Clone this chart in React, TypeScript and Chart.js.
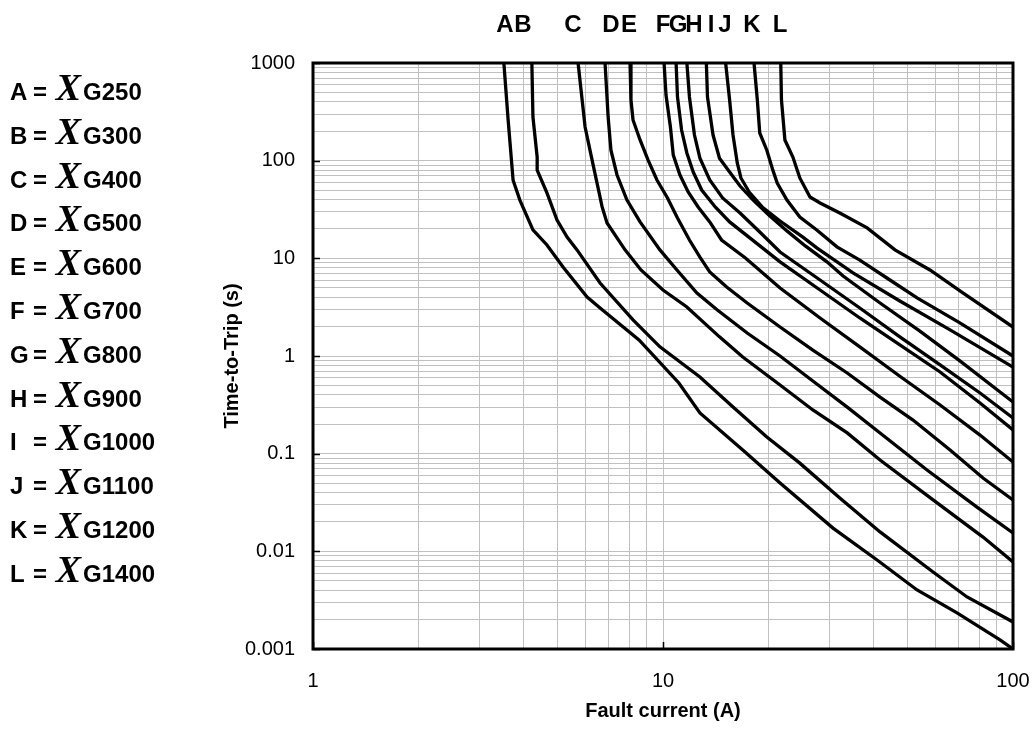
import React, { useEffect, useRef } from 'react';
import { Chart, registerables } from 'chart.js';

Chart.register(...registerables);

// ---------- DATA ----------
const curveLetters = ['A', 'B', 'C', 'D', 'E', 'F', 'G', 'H', 'I', 'J', 'K', 'L'];
const modelNames = ['G250', 'G300', 'G400', 'G500', 'G600', 'G700', 'G800', 'G900', 'G1000', 'G1100', 'G1200', 'G1400'];

const currentA = [3.51, 3.61, 3.73, 3.9, 4.25, 4.66, 5.18, 6.07, 6.61, 8.54, 11.1, 12.75, 16.9, 21.6, 30.6, 40.9, 53.2, 69.2, 91.8, 100];
const timeA = [1000, 261, 63, 39.5, 19.6, 13.7, 8.15, 4.02, 3.1, 1.46, 0.53, 0.261, 0.109, 0.05, 0.0173, 0.00815, 0.00402, 0.00234, 0.00124, 0.001];

const currentB = [4.22, 4.25, 4.37, 4.37, 4.66, 4.98, 5.32, 5.68, 6.61, 8.21, 9.8, 12.75, 15.85, 19.8, 24.6, 32.0, 41.7, 59.1, 73.9, 100];
const timeB = [1000, 280, 109, 80, 46.7, 24.7, 16.5, 12.2, 5.59, 2.34, 1.24, 0.61, 0.3, 0.148, 0.08, 0.0352, 0.0158, 0.00615, 0.00341, 0.00189];

const currentC = [5.72, 5.99, 6.27, 6.48, 6.7, 6.92, 7.79, 8.65, 10.0, 11.7, 14.5, 16.9, 21.6, 26.8, 33.6, 41.7, 59.1, 82.1, 100];
const timeC = [1000, 221, 102, 59, 33.6, 23.0, 12.2, 7.6, 4.74, 3.18, 1.57, 0.977, 0.505, 0.28, 0.163, 0.0861, 0.0336, 0.014, 0.0078];

const currentD = [6.83, 6.97, 7.1, 7.39, 7.89, 8.6, 9.8, 10.96, 12.5, 14.3, 17.4, 21.6, 26.8, 33.6, 41.7, 56.8, 78.9, 100];
const timeD = [1000, 280, 128, 71.3, 39.5, 23.6, 12.2, 7.6, 4.42, 2.96, 1.72, 1.0, 0.555, 0.3, 0.163, 0.068, 0.0284, 0.0154];

const currentE = [8.05, 8.1, 8.21, 8.6, 9.06, 9.61, 10.3, 11.0, 11.9, 12.75, 13.6, 15.2, 17.4, 21.6, 26.8, 33.6, 41.7, 51.8, 66.1, 82.1, 100];
const timeE = [1000, 418, 261, 163, 102, 63.4, 41.5, 25.9, 15.4, 10.3, 7.25, 5.09, 3.49, 1.98, 1.15, 0.67, 0.38, 0.221, 0.109, 0.0564, 0.0336];

const currentF = [10.07, 10.2, 10.5, 10.7, 11.18, 11.8, 12.6, 13.6, 14.7, 17.2, 21.6, 28.1, 36.5, 47.5, 61.9, 80.5, 100];
const timeF = [1000, 470, 221, 114, 71.3, 47.8, 33.6, 23.6, 15.4, 10.1, 4.97, 2.45, 1.24, 0.62, 0.315, 0.155, 0.082];

const currentG = [10.9, 11.0, 11.3, 11.7, 12.2, 12.9, 14.1, 15.5, 17.7, 21.6, 28.1, 36.5, 47.5, 61.9, 80.5, 100];
const timeG = [1000, 449, 206, 120, 76.5, 50, 33.6, 23.6, 16.2, 9.2, 4.74, 2.45, 1.3, 0.686, 0.33, 0.175];

const currentH = [11.7, 11.9, 12.3, 12.75, 13.6, 14.8, 16.6, 18.9, 21.6, 28.1, 36.5, 47.5, 61.9, 80.5, 100];
const timeH = [1000, 449, 183, 106, 63.4, 41.5, 29.1, 18.6, 11.6, 6.0, 3.1, 1.57, 0.81, 0.418, 0.232];

const currentI = [13.3, 13.4, 13.9, 14.5, 15.5, 16.6, 18.1, 20.2, 22.6, 25.5, 29.4, 32.7, 41.7, 54.2, 70.5, 100];
const timeI = [1000, 449, 183, 106, 76.5, 55, 39.5, 27.1, 19.1, 13.4, 9.2, 6.6, 3.49, 1.8, 0.89, 0.338];

const currentJ = [15.1, 15.5, 15.85, 16.3, 16.7, 17.7, 19.2, 21.6, 25.1, 27.5, 34.9, 47.5, 66.1, 100];
const timeJ = [1000, 418, 183, 94.7, 66.5, 46.7, 33.6, 24.1, 16.5, 12.8, 7.08, 3.66, 1.85, 0.77];

const currentK = [18.2, 18.6, 18.9, 19.8, 20.6, 21.2, 22.6, 24.6, 27.5, 31.4, 36.5, 44.5, 53.2, 70.5, 100];
const timeK = [1000, 418, 192, 128, 80, 59, 39.5, 26.5, 19.5, 13.1, 9.6, 6.0, 3.93, 2.18, 1.0];

const currentL = [21.7, 21.8, 22.3, 23.5, 24.6, 26.3, 28.1, 32.0, 38.3, 46.0, 57.9, 71.9, 100];
const timeL = [1000, 418, 163, 109, 66.5, 42.5, 36.9, 29.1, 20.5, 12.2, 7.6, 4.42, 1.98];

const seriesCurrents = [currentA, currentB, currentC, currentD, currentE, currentF, currentG, currentH, currentI, currentJ, currentK, currentL];
const seriesTimes = [timeA, timeB, timeC, timeD, timeE, timeF, timeG, timeH, timeI, timeJ, timeK, timeL];

const xMajorTicks = [1, 10, 100];
const xTickLabels = ['1', '10', '100'];
const yMajorTicks = [0.001, 0.01, 0.1, 1, 10, 100, 1000];
const yTickLabels = ['0.001', '0.01', '0.1', '1', '10', '100', '1000'];

// ---------- LAYOUT / STYLE ----------
const W = 1035;
const H = 731;
const topLabelCenters = [505, 523, 573, 611, 629, 663, 678, 694, 711, 725, 752, 780];

function logGrid(min: number, max: number): number[] {
  const out: number[] = [];
  const e0 = Math.round(Math.log10(min));
  const e1 = Math.round(Math.log10(max));
  for (let e = e0; e < e1; e++) {
    for (let k = 1; k <= 9; k++) out.push(parseFloat((k * Math.pow(10, e)).toPrecision(6)));
  }
  out.push(max);
  return out;
}

function labelFor(v: number, majors: number[], labels: string[]): string {
  const i = majors.findIndex((m) => Math.abs(Math.log10(m) - Math.log10(v)) < 1e-6);
  return i >= 0 ? labels[i] : '';
}

const framePlugin = {
  id: 'frame',
  afterDatasetsDraw(chart: any) {
    const { ctx, chartArea, scales } = chart;
    const { left, top, right, bottom } = chartArea;
    ctx.save();
    ctx.strokeStyle = '#000';
    ctx.lineWidth = 3;
    ctx.strokeRect(left, top, right - left, bottom - top);
    ctx.lineWidth = 1.5;
    ctx.beginPath();
    yMajorTicks.forEach((v) => {
      const y = Math.round(scales.y.getPixelForValue(v)) + 0.5;
      ctx.moveTo(left, y);
      ctx.lineTo(left + 7, y);
    });
    xMajorTicks.forEach((v) => {
      const x = Math.round(scales.x.getPixelForValue(v)) + 0.5;
      ctx.moveTo(x, bottom);
      ctx.lineTo(x, bottom - 7);
    });
    ctx.stroke();
    ctx.restore();
  },
};

export default function App() {
  const canvasRef = useRef<HTMLCanvasElement | null>(null);

  useEffect(() => {
    if (!canvasRef.current) return;
    const xGrid = logGrid(1, 100);
    const yGrid = logGrid(0.001, 1000);
    const datasets = seriesCurrents.map((xs, i) => ({
      label: curveLetters[i],
      data: xs.map((x, j) => ({ x, y: seriesTimes[i][j] })),
      showLine: true,
      borderColor: '#000',
      backgroundColor: '#000',
      borderWidth: 3.3,
      pointRadius: 0,
      tension: 0,
      fill: false,
    }));
    const chart = new Chart(canvasRef.current, {
      type: 'scatter',
      data: { datasets },
      options: {
        animation: false,
        responsive: false,
        devicePixelRatio: 1,
        layout: { padding: { left: 0, top: 63, right: 22, bottom: 0 } },
        plugins: { legend: { display: false }, tooltip: { enabled: false } },
        scales: {
          x: {
            type: 'logarithmic',
            position: 'bottom',
            min: 1,
            max: 100,
            afterBuildTicks: (s: any) => {
              s.ticks = xGrid.map((v) => ({ value: v }));
            },
            afterFit: (s: any) => {
              s.height = 82;
              s.paddingLeft = 0;
              s.paddingRight = 0;
            },
            grid: { color: '#c0c0c0', lineWidth: 1, drawTicks: false },
            border: { display: false },
            ticks: {
              autoSkip: false,
              maxRotation: 0,
              padding: 20,
              color: '#000',
              font: { size: 20, family: 'Liberation Sans' },
              callback: (v: any) => labelFor(Number(v), xMajorTicks, xTickLabels),
            },
            title: {
              display: true,
              text: 'Fault current (A)',
              color: '#000',
              font: { size: 20, weight: 'bold', family: 'Liberation Sans' },
              padding: { top: 0, bottom: 8 },
            },
          },
          y: {
            type: 'logarithmic',
            position: 'left',
            min: 0.001,
            max: 1000,
            afterBuildTicks: (s: any) => {
              s.ticks = yGrid.map((v) => ({ value: v }));
            },
            afterFit: (s: any) => {
              s.width = 313;
              s.paddingTop = 0;
              s.paddingBottom = 0;
            },
            grid: { color: '#c0c0c0', lineWidth: 1, drawTicks: false },
            border: { display: false },
            ticks: {
              autoSkip: false,
              padding: 18,
              color: '#000',
              font: { size: 20, family: 'Liberation Sans' },
              callback: (v: any) => labelFor(Number(v), yMajorTicks, yTickLabels),
            },
            title: {
              display: true,
              text: 'Time-to-Trip (s)',
              color: '#000',
              font: { size: 20, weight: 'bold', family: 'Liberation Sans' },
              padding: { top: 220, bottom: 0 },
            },
          },
        },
      },
      plugins: [framePlugin],
    } as any);
    return () => chart.destroy();
  }, []);

  return (
    <div style={{ position: 'fixed', left: 0, top: 0, width: W, height: H, background: '#fff', overflow: 'hidden' }}>
      <canvas ref={canvasRef} width={W} height={H} style={{ position: 'absolute', left: 0, top: 0, width: W, height: H }} />
      {curveLetters.map((c, i) => (
        <span
          key={'t' + c}
          style={{
            position: 'absolute',
            left: topLabelCenters[i],
            top: 10,
            transform: 'translateX(-50%)',
            fontFamily: 'Liberation Sans',
            fontWeight: 'bold',
            fontSize: 24,
            lineHeight: '28px',
            color: '#000',
          }}
        >
          {c}
        </span>
      ))}
      {curveLetters.map((c, i) => (
        <div
          key={'l' + c}
          style={{
            position: 'absolute',
            left: 10,
            top: 73 + i * 43.8,
            height: 28,
            lineHeight: '28px',
            whiteSpace: 'nowrap',
            fontFamily: 'Liberation Sans',
            fontWeight: 'bold',
            fontSize: 24,
            color: '#000',
          }}
        >
          <span style={{ display: 'inline-block', width: 23 }}>{c}</span>
          <span>= </span>
          <span
            style={{
              fontFamily: 'Liberation Serif',
              fontStyle: 'italic',
              fontWeight: 'bold',
              fontSize: 38,
              lineHeight: '28px',
              marginLeft: 2,
              marginRight: 2,
            }}
          >
            X
          </span>
          <span>{modelNames[i]}</span>
        </div>
      ))}
    </div>
  );
}
